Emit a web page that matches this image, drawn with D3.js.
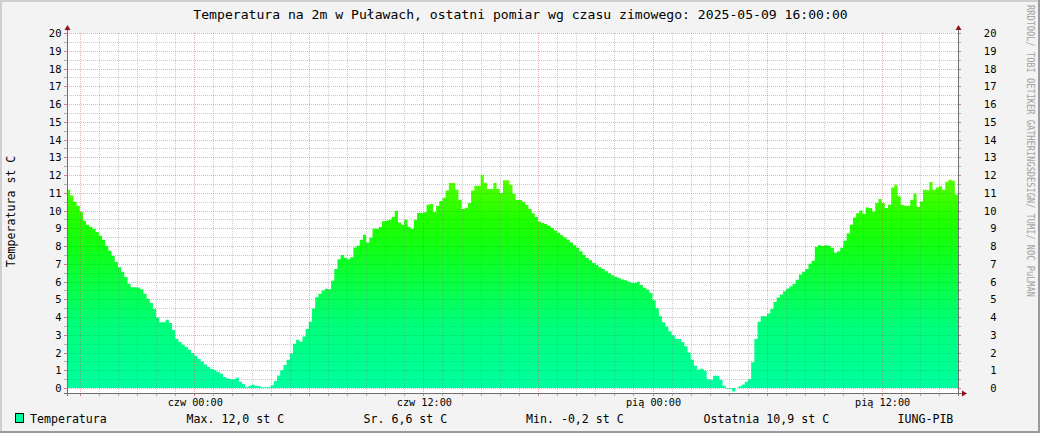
<!DOCTYPE html>
<html><head><meta charset="utf-8">
<script src="https://cdn.jsdelivr.net/npm/d3@7"></script>
<style>
html,body{margin:0;padding:0;background:#f3f3f3;}
svg{display:block;}
text{font-family:"DejaVu Sans Mono",monospace;}
</style>
</head><body><svg id="c" width="1040" height="433"></svg>
<script>
// ---------- data ----------
const chartTitle = "Temperatura na 2m w Puławach, ostatni pomiar wg czasu zimowego: 2025-05-09 16:00:00";
const yAxisTitle = "Temperatura st C";
const watermark = "RRDTOOL/ TOBI OETIKER   GATHERINGSDESIGN/ TUMI/ NOC PuLMAN";
const startTime = "2025-05-07T17:20:00";
const endTime = "2025-05-09T16:00:00";
const stepMinutes = 10;
const temperature = [
 11.17,10.85,10.5,10.27,9.93,9.42,9.2,9.07,8.96,8.79,
 8.58,8.35,8.0,7.73,7.45,7.1,6.8,6.55,6.25,5.87,
 5.68,5.68,5.65,5.57,5.31,5.03,4.79,4.45,3.98,3.71,
 3.71,3.85,3.66,3.27,2.76,2.59,2.44,2.31,2.16,1.97,
 1.82,1.65,1.5,1.33,1.18,1.07,1.0,0.9,0.8,0.62,
 0.54,0.5,0.5,0.58,0.35,0.22,0.05,0.13,0.18,0.13,
 0.1,0.05,0.05,0.05,0.15,0.4,0.7,1.0,1.3,1.6,
 1.95,2.5,2.72,2.61,2.9,3.32,3.73,4.48,5.12,5.31,
 5.5,5.59,5.56,6.04,6.7,7.26,7.49,7.34,7.26,7.37,
 7.92,8.01,8.35,8.63,8.2,8.46,8.97,8.97,9.07,9.39,
 9.42,9.48,9.63,9.99,9.33,9.2,9.48,9.07,8.97,9.48,
 9.86,9.86,9.9,10.33,10.37,9.92,10.27,10.53,10.72,11.13,
 11.55,11.55,11.17,10.6,10.08,10.16,10.42,11.13,11.39,11.39,
 12.0,11.55,11.21,11.21,11.55,11.21,10.99,11.7,11.7,11.45,
 10.95,10.59,10.59,10.5,10.31,10.08,9.85,9.63,9.38,9.3,
 9.24,9.14,9.01,8.88,8.75,8.6,8.48,8.35,8.2,8.05,
 7.9,7.7,7.5,7.33,7.2,7.05,6.93,6.8,6.7,6.58,
 6.47,6.36,6.27,6.2,6.12,6.07,6.0,5.93,5.91,5.99,
 5.8,5.65,5.55,5.35,4.95,4.5,4.05,3.7,3.45,3.2,
 2.98,2.78,2.76,2.6,2.35,2.0,1.6,1.25,1.03,1.09,
 0.97,0.5,0.47,0.69,0.69,0.47,0.13,-0.02,-0.02,-0.2,
 0.0,0.1,0.2,0.35,0.5,1.45,2.76,3.74,4.04,4.04,
 4.2,4.45,4.85,5.1,5.27,5.45,5.6,5.73,5.88,6.1,
 6.4,6.55,6.7,7.0,7.17,7.94,8.05,8.0,8.05,8.02,
 7.9,7.62,7.7,7.9,8.3,8.7,9.2,9.6,9.85,10.0,
 9.8,10.17,10.14,9.95,10.42,10.65,10.42,10.14,10.33,11.3,
 11.45,10.8,10.33,10.27,10.27,10.6,10.95,10.2,10.51,11.17,
 11.14,11.6,11.17,11.3,11.37,11.17,11.62,11.73,11.68,10.9
];
const yTickValues = [0,1,2,3,4,5,6,7,8,9,10,11,12,13,14,15,16,17,18,19,20];
const xTickTimes = ["2025-05-08T00:00:00","2025-05-08T12:00:00","2025-05-09T00:00:00","2025-05-09T12:00:00"];
const xTickLabels = ["czw 00:00","czw 12:00","pią 00:00","pią 12:00"];
const legendName = "Temperatura";
const legendStats = ["Max. 12,0 st C","Sr. 6,6 st C","Min. -0,2 st C","Ostatnia 10,9 st C","IUNG-PIB"];

// ---------- layout ----------
const W = 1040, H = 433;
const L = 67, R = 958, T = 33, B = 393;
const parse = d3.timeParse("%Y-%m-%dT%H:%M:%S");
const t0 = parse(startTime), t1 = parse(endTime);

const x = d3.scaleTime().domain([t0, t1]).range([L, R]);
const y = d3.scaleLinear().domain([-0.28, 20]).range([B, T]);

const svg = d3.select("#c");

// background & frame
svg.append("rect").attr("x",0).attr("y",0).attr("width",W).attr("height",H).attr("fill","#f3f3f3");
svg.append("rect").attr("x",0).attr("y",0).attr("width",W).attr("height",2).attr("fill","#cfcfcf");
svg.append("rect").attr("x",0).attr("y",0).attr("width",2).attr("height",H).attr("fill","#cfcfcf");
svg.append("rect").attr("x",0).attr("y",H-2).attr("width",W).attr("height",2).attr("fill","#9a9a9a");
svg.append("rect").attr("x",W-2).attr("y",0).attr("width",2).attr("height",H).attr("fill","#9a9a9a");

// plot background
svg.append("rect").attr("x",L).attr("y",T).attr("width",R-L).attr("height",B-T).attr("fill","#ffffff");

// gradient
const defs = svg.append("defs");
const grad = defs.append("linearGradient").attr("id","g").attr("gradientUnits","userSpaceOnUse")
  .attr("x1",0).attr("x2",0).attr("y1",y(0)).attr("y2",y(12));
[[0,"#00ffa0"],[0.3,"#00ff7a"],[0.65,"#10ff18"],[0.8,"#22ff00"],[1,"#5cff00"]].forEach(s=>{
  grad.append("stop").attr("offset",s[0]).attr("stop-color",s[1]);
});

// data points
const pts = temperature.map((v,i)=>({t:d3.timeMinute.offset(t0, i*stepMinutes), v}));
pts.push({t:t1, v:temperature[temperature.length-1]});

const area = d3.area().x(d=>x(d.t)).y0(y(0)).y1(d=>y(d.v)).curve(d3.curveStepAfter);
svg.append("path").datum(pts).attr("d",area).attr("fill","url(#g)");

// grid
const g = svg.append("g").attr("shape-rendering","crispEdges");
const minorCol = "rgba(120,120,120,0.38)", majorCol = "rgba(215,70,70,0.45)";
const hours = d3.timeHour.range(d3.timeHour.ceil(t0), t1);
hours.forEach(h=>{
  const major = h.getHours() % 6 === 0;
  const xx = Math.round(x(h)) + 0.5;
  g.append("line").attr("x1",xx).attr("x2",xx).attr("y1",T).attr("y2",B)
    .attr("stroke", major?majorCol:minorCol).attr("stroke-dasharray","1,1");
  g.append("line").attr("x1",xx).attr("x2",xx).attr("y1",B).attr("y2",B+3)
    .attr("stroke", major?"#d08080":"#b0b0b0");
});
d3.range(0, 40.5, 1).forEach(k=>{
  const v = k/2;
  const major = k % 2 === 0;
  const yy = Math.round(y(v)) + 0.5;
  g.append("line").attr("x1",L).attr("x2",R).attr("y1",yy).attr("y2",yy)
    .attr("stroke", major?majorCol:minorCol).attr("stroke-dasharray","1,1");
  g.append("line").attr("x1",L-3).attr("x2",L).attr("y1",yy).attr("y2",yy)
    .attr("stroke", major?"#d08080":"#b0b0b0");
  g.append("line").attr("x1",R).attr("x2",R+3).attr("y1",yy).attr("y2",yy)
    .attr("stroke", major?"#d08080":"#b0b0b0");
});

// axes lines
const ax = svg.append("g").attr("shape-rendering","crispEdges");
ax.append("line").attr("x1",L+0.5).attr("x2",L+0.5).attr("y1",29).attr("y2",B+3).attr("stroke","#707070");
ax.append("line").attr("x1",R+0.5).attr("x2",R+0.5).attr("y1",29).attr("y2",B+3).attr("stroke","#707070");
ax.append("line").attr("x1",L-3).attr("x2",963).attr("y1",B+0.5).attr("y2",B+0.5).attr("stroke","#707070");
const arrowCol = "#8e1414";
svg.append("path").attr("d",`M${L+0.5-3},${30} L${L+0.5+3},${30} L${L+0.5},${25} Z`).attr("fill",arrowCol);
svg.append("path").attr("d",`M${R+0.5-3},${30} L${R+0.5+3},${30} L${R+0.5},${25} Z`).attr("fill",arrowCol);
svg.append("path").attr("d",`M${962},${B+0.5-3} L${962},${B+0.5+3} L${967},${B+0.5} Z`).attr("fill",arrowCol);

// y tick labels
const yl = svg.append("g").attr("font-size","10.5px").attr("fill","#000");
yTickValues.forEach(v=>{
  yl.append("text").attr("x",61.5).attr("y",y(v)+4).attr("text-anchor","end").text(v);
  yl.append("text").attr("x",996.5).attr("y",y(v)+4).attr("text-anchor","end").text(v);
});

// x tick labels
xTickTimes.forEach((s,i)=>{
  svg.append("text").attr("x",x(parse(s))+1).attr("y",406).attr("text-anchor","middle")
    .attr("font-size","10.2px").attr("fill","#000").text(xTickLabels[i]);
});

// title
svg.append("text").attr("x",520.5).attr("y",18.5).attr("text-anchor","middle")
  .attr("font-size","13.1px").attr("fill","#000").text(chartTitle);

// y axis title
svg.append("text").attr("transform","translate(14.5,211.5) rotate(-90)").attr("text-anchor","middle")
  .attr("font-size","11.6px").attr("fill","#000").text(yAxisTitle);

// watermark
svg.append("text").attr("transform","translate(1026.5,5) rotate(90)")
  .attr("font-size","9.6px").attr("fill","#a4a4a4")
  .attr("textLength",292).attr("lengthAdjust","spacingAndGlyphs").text(watermark);

// legend
svg.append("rect").attr("x",15.5).attr("y",413.5).attr("width",8).attr("height",9)
  .attr("fill","#00ffa0").attr("stroke","#000").attr("stroke-width",1);
const lg = svg.append("g").attr("font-size","11.6px").attr("fill","#000");
lg.append("text").attr("x",30).attr("y",423).text(legendName);
const legendX = [186.5,363.5,526,703.5,897.5];
legendStats.forEach((s,i)=>{
  lg.append("text").attr("x",legendX[i]).attr("y",423).text(s);
});
</script>
</body></html>
